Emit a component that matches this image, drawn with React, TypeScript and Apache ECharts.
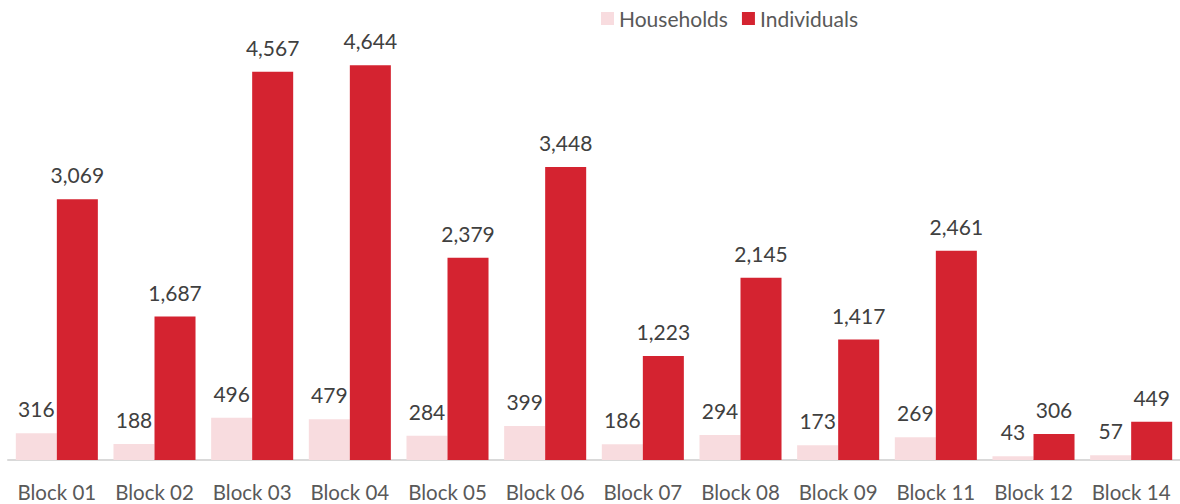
import React, { useEffect, useRef } from "react";
import * as echarts from "echarts";

const categories = ["Block 01", "Block 02", "Block 03", "Block 04", "Block 05", "Block 06", "Block 07", "Block 08", "Block 09", "Block 11", "Block 12", "Block 14"];
const households = [316, 188, 496, 479, 284, 399, 186, 294, 173, 269, 43, 57];
const individuals = [3069, 1687, 4567, 4644, 2379, 3448, 1223, 2145, 1417, 2461, 306, 449];

const FONT = "Lato, 'Noto Sans', sans-serif";

export default function App() {
  const ref = useRef<HTMLDivElement>(null);
  useEffect(() => {
    document.body.style.margin = "0";
    const chart = echarts.init(ref.current!, null, { renderer: "svg" });
    const label = {
      show: true,
      position: "top",
      distance: 14,
      color: "#404040",
      fontSize: 21,
      fontFamily: FONT,
      formatter: (p: any) => Number(p.value).toLocaleString("en-US"),
    };
    chart.setOption({
      animation: false,
      legend: {
        top: 3,
        left: 596,
        itemWidth: 13,
        itemHeight: 13,
        itemGap: 14,
        icon: "rect",
        textStyle: { color: "#595959", fontSize: 21, fontFamily: FONT },
        data: ["Households", "Individuals"],
      },
      grid: { left: 8, right: 0, top: 35, bottom: 44 },
      xAxis: {
        type: "category",
        data: categories,
        axisLine: { lineStyle: { color: "#d9d9d9", width: 2 } },
        axisTick: { show: false },
        axisLabel: { color: "#595959", fontSize: 20.5, fontFamily: FONT, margin: 21, interval: 0, hideOverlap: false },
      },
      yAxis: {
        type: "value",
        min: 0,
        max: 5000,
        show: false,
        splitLine: { show: false },
      },
      series: [
        {
          name: "Households",
          type: "bar",
          data: households,
          barGap: "0%",
          barCategoryGap: "16%",
          itemStyle: { color: "#f8dcdf" },
          label,
        },
        {
          name: "Individuals",
          type: "bar",
          data: individuals,
          barGap: "0%",
          barCategoryGap: "16%",
          itemStyle: { color: "#d42330" },
          label,
        },
      ],
    });
    return () => chart.dispose();
  }, []);
  return <div ref={ref} style={{ width: 1180, height: 504 }} />;
}
